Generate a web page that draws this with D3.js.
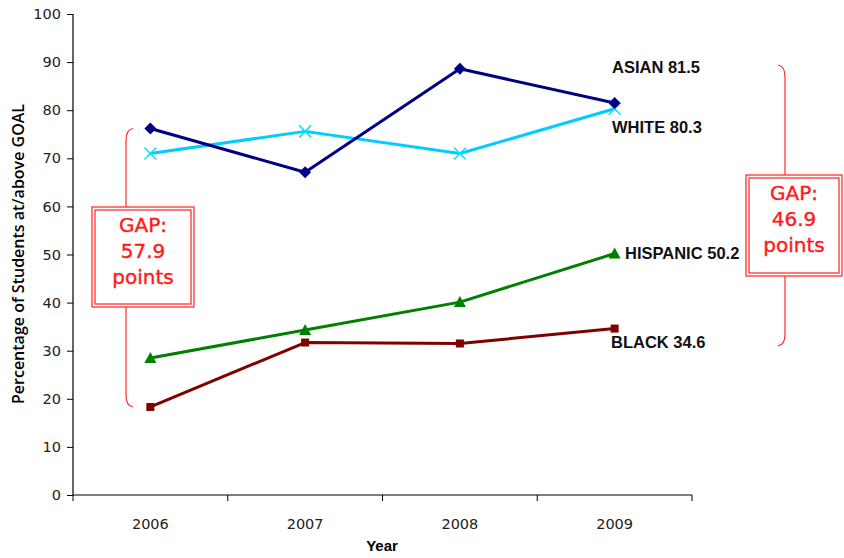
<!DOCTYPE html>
<html>
<head>
<meta charset="utf-8">
<script src="https://cdn.jsdelivr.net/npm/d3@7"></script>
<style>
  html, body { margin: 0; padding: 0; background: #fff; }
  svg { display: block; }
</style>
</head>
<body>
<svg id="chart" width="844" height="558"></svg>
<script>
// ---- data ----
const years = ["2006", "2007", "2008", "2009"];
const asian = [76.2, 67.1, 88.6, 81.5];
const white = [71.0, 75.6, 71.0, 80.3];
const hispanic = [28.5, 34.3, 40.1, 50.2];
const black = [18.3, 31.7, 31.5, 34.6];
const seriesNames = ["ASIAN", "WHITE", "HISPANIC", "BLACK"];
const yTicks = [0, 10, 20, 30, 40, 50, 60, 70, 80, 90, 100];
const gapLeft = { top: 76.2, bottom: 18.3, lines: ["GAP:", "57.9", "points"] };
const gapRight = { top: 89.4, bottom: 31.0, lines: ["GAP:", "46.9", "points"] };

const svg = d3.select("#chart");
const x = d3.scaleBand().domain(years).range([73, 692]);
const y = d3.scaleLinear().domain([0, 100]).range([495, 14]);
const cx = d => x(d) + x.bandwidth() / 2;

// axes
const yAxis = d3.axisLeft(y).tickValues(yTicks).tickSize(6).tickPadding(6);
const gy = svg.append("g").attr("transform", "translate(73,0)").call(yAxis);
gy.select(".domain").attr("stroke", "#000").attr("stroke-width", 1.2).attr("d", `M0,${y(100)}V${y(0)}`);
gy.selectAll(".tick line").attr("stroke", "#000");
gy.selectAll(".tick text").attr("font-family", "DejaVu Sans, sans-serif").attr("font-size", 14.5).attr("fill", "#222");

const gx = svg.append("g").attr("transform", `translate(0,${y(0)})`);
gx.append("line").attr("x1", 73).attr("x2", 692).attr("stroke", "#000").attr("stroke-width", 1.2);
const bounds = years.map(d => x(d)).concat([x(years[years.length - 1]) + x.bandwidth()]);
gx.selectAll("line.tk").data(bounds).join("line").attr("class", "tk")
  .attr("x1", d => d).attr("x2", d => d).attr("y1", 0).attr("y2", 6).attr("stroke", "#000");
gx.selectAll("text").data(years).join("text")
  .attr("x", d => cx(d)).attr("y", 34).attr("text-anchor", "middle")
  .attr("font-family", "DejaVu Sans, sans-serif").attr("font-size", 14.5).attr("fill", "#222")
  .text(d => d);

// axis titles
svg.append("text").attr("x", 382).attr("y", 551).attr("text-anchor", "middle")
  .attr("font-family", "Liberation Sans, Arial, sans-serif").attr("font-weight", "bold").attr("font-size", 15)
  .text("Year");
svg.append("text").attr("transform", "translate(24,254) rotate(-90)").attr("text-anchor", "middle")
  .attr("font-family", "Open Sans, sans-serif").attr("font-weight", 600).attr("font-size", 16)
  .text("Percentage of Students at/above GOAL");

// brackets
const line = d3.line().x((d, i) => cx(years[i])).y(d => y(d));
function brace(xv, dir, topV, botV) {
  const t = y(topV), b = y(botV);
  const p = d3.path();
  p.moveTo(xv + dir * 7, t);
  p.quadraticCurveTo(xv, t + 1, xv, t + 12);
  p.lineTo(xv, b - 12);
  p.quadraticCurveTo(xv, b - 1, xv + dir * 7, b);
  svg.append("path").attr("d", p.toString()).attr("fill", "none").attr("stroke", "#ff2a2a").attr("stroke-width", 1.2);
}
brace(126, 1, gapLeft.top, gapLeft.bottom);
brace(785, -1, gapRight.top, gapRight.bottom);

// series lines
const series = [
  { name: "ASIAN", vals: asian, color: "#000080", marker: "diamond" },
  { name: "WHITE", vals: white, color: "#00ccff", marker: "x" },
  { name: "HISPANIC", vals: hispanic, color: "#008000", marker: "triangle" },
  { name: "BLACK", vals: black, color: "#800000", marker: "square" }
];
const order = ["BLACK", "HISPANIC", "WHITE", "ASIAN"];
order.forEach(nm => {
  const s = series.find(d => d.name === nm);
  svg.append("path").datum(s.vals).attr("d", line).attr("fill", "none")
    .attr("stroke", s.color).attr("stroke-width", 3).attr("stroke-linejoin", "round");
});
order.forEach(nm => {
  const s = series.find(d => d.name === nm);
  const g = svg.append("g");
  s.vals.forEach((v, i) => {
    const px = cx(years[i]), py = y(v);
    if (s.marker === "diamond") {
      g.append("path").attr("d", `M${px},${py - 6}L${px + 6},${py}L${px},${py + 6}L${px - 6},${py}Z`).attr("fill", s.color);
    } else if (s.marker === "square") {
      g.append("rect").attr("x", px - 4).attr("y", py - 4).attr("width", 8).attr("height", 8).attr("fill", s.color);
    } else if (s.marker === "triangle") {
      g.append("path").attr("d", `M${px},${py - 6}L${px + 6},${py + 5}L${px - 6},${py + 5}Z`).attr("fill", s.color);
    } else {
      g.append("path").attr("d", `M${px - 6},${py - 6}L${px + 6},${py + 6}M${px + 6},${py - 6}L${px - 6},${py + 6}`)
        .attr("stroke", "#00e5ff").attr("stroke-width", 1.5);
    }
  });
});

// series labels
const labelPos = { ASIAN: [612, 73], WHITE: [612, 133], HISPANIC: [625, 259], BLACK: [611, 348] };
series.forEach(s => {
  const last = s.vals[s.vals.length - 1];
  svg.append("text").attr("x", labelPos[s.name][0]).attr("y", labelPos[s.name][1])
    .attr("font-family", "Liberation Sans, Arial, sans-serif").attr("font-weight", "bold").attr("font-size", 16.5)
    .attr("fill", "#111").text(`${s.name} ${last.toFixed(1)}`);
});

// gap boxes
function gapBox(x0, y0, w, h, lines) {
  const g = svg.append("g");
  g.append("rect").attr("x", x0).attr("y", y0).attr("width", w).attr("height", h)
    .attr("fill", "#fff").attr("stroke", "#ff2020").attr("stroke-width", 1.2);
  g.append("rect").attr("x", x0 + 3).attr("y", y0 + 3).attr("width", w - 6).attr("height", h - 6)
    .attr("fill", "none").attr("stroke", "#ff2020").attr("stroke-width", 1.2);
  lines.forEach((t, i) => {
    g.append("text").attr("x", x0 + w / 2).attr("y", y0 + 25 + i * 26).attr("text-anchor", "middle")
      .attr("font-family", "DejaVu Sans, sans-serif").attr("font-size", 20).attr("fill", "#ff1a1a")
      .attr("stroke", "#ff1a1a").attr("stroke-width", 0.4).text(t);
  });
}
gapBox(92, 207, 102, 100, gapLeft.lines);
gapBox(746, 175, 96, 101, gapRight.lines);
</script>
</body>
</html>
